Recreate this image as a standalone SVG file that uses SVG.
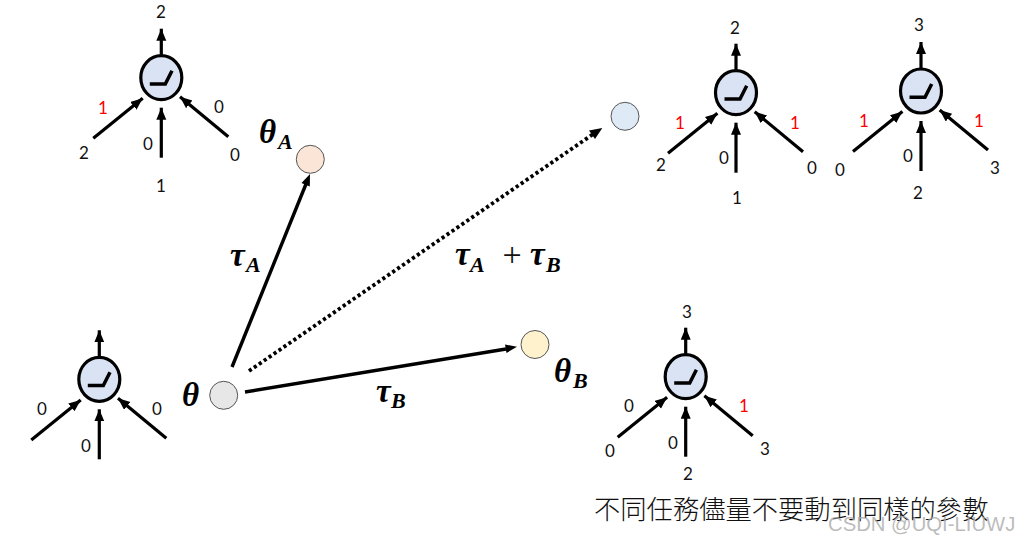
<svg xmlns="http://www.w3.org/2000/svg" width="1018" height="541" viewBox="0 0 1018 541">
<style>
text{font-family:"Lato","Liberation Sans",sans-serif;font-size:17px;fill:#111;text-anchor:middle}
.r{fill:#f00}
.m{font-family:"Liberation Serif","DejaVu Serif",serif;font-weight:bold;font-style:italic;font-size:33px;fill:#000;text-anchor:start}
.s{font-size:22px}
.plus{font-family:"Liberation Serif",serif;font-size:34px;fill:#111;text-anchor:middle}
.p{stroke:#555;stroke-width:1}
.a{stroke:#000;stroke-width:3.200;fill:none;marker-end:url(#h)}
.c{stroke:#000;stroke-width:3.400;fill:none}
.d{stroke:#000;stroke-width:3.800;fill:none;stroke-dasharray:3.200 2.800}
.cjk{font-family:"Noto Sans CJK TC",sans-serif;font-weight:300;font-size:26.300px;fill:#111;text-anchor:start}
.wm{font-family:"Liberation Sans",sans-serif;font-size:20.300px;fill:#aaa;fill-opacity:.8;text-anchor:start}
</style>
<defs>
<marker id="h" markerUnits="userSpaceOnUse" markerWidth="14" markerHeight="12" refX="12" refY="5" orient="auto"><path d="M0 0L12 5L0 10z" fill="#000"/></marker>
<g id="neuron">
<path class="a" d="M0-23V-49"/>
<path class="a" d="M-68 60.600L-18.600 20.600"/>
<path class="a" d="M0 80V30"/>
<path class="a" d="M67 59L18.700 19"/>
<ellipse rx="20.500" ry="22" fill="#dae3f3" stroke="#000" stroke-width="3.200"/>
<path d="M-11.500 6.300H4L10.700-7" fill="none" stroke="#000" stroke-width="3.500"/>
</g>
</defs>
<g id="connectors">
<path class="c" d="M232 367L306 184"/><path d="M310 174L309.800 186.500L301.500 183z"/>
<path class="d" d="M249 371L594 133.500"/><path d="M602.300 128L595 139L589 130.500z"/>
<path class="c" d="M245 392L506 349"/><path d="M517 346.800L506.500 353L505 344.500z"/>
</g>
<g id="neuron-top-left"><use href="#neuron" x="161.300" y="77.700"/>
<text x="161" y="18">2</text><text class="r" x="103" y="114">1</text><text x="84" y="159">2</text><text x="148" y="150">0</text><text x="161" y="192">1</text><text x="219" y="113">0</text><text x="235" y="161">0</text></g>
<g id="neuron-top-mid"><use href="#neuron" x="736" y="92.700"/>
<text x="735" y="34">2</text><text class="r" x="680" y="129">1</text><text x="661" y="171">2</text><text x="724" y="164">0</text><text x="737" y="204">1</text><text class="r" x="795" y="129">1</text><text x="812" y="174">0</text></g>
<g id="neuron-top-right"><use href="#neuron" x="921" y="91"/>
<text x="919" y="31">3</text><text class="r" x="864" y="127">1</text><text x="840" y="176">0</text><text x="908" y="162">0</text><text x="918" y="199">2</text><text class="r" x="979" y="127">1</text><text x="995" y="174">3</text></g>
<g id="neuron-bottom-right"><use href="#neuron" x="685.700" y="376.700"/>
<text x="687" y="318">3</text><text x="629" y="412">0</text><text x="610" y="457">0</text><text x="673" y="449">0</text><text x="688" y="480">2</text><text class="r" x="744" y="412">1</text><text x="765" y="455">3</text></g>
<g id="neuron-left"><use href="#neuron" x="99.300" y="379.300"/>
<text x="42" y="415">0</text><text x="86" y="452">0</text><text x="157" y="415">0</text></g>
<g id="theta"><circle class="p" cx="223.700" cy="395.300" r="14" fill="#e7e7e7"/><text class="m" x="182" y="406">θ</text></g>
<g id="theta-a"><circle class="p" cx="310.300" cy="159.300" r="14" fill="#fbe5d6"/><text class="m" x="259" y="143">θ</text><text class="m s" x="278" y="149">A</text></g>
<g id="theta-b"><circle class="p" cx="535" cy="344.500" r="14" fill="#fff2cc"/><text class="m" x="554" y="382">θ</text><text class="m s" x="573" y="388">B</text></g>
<g id="theta-ab"><circle class="p" cx="625" cy="116.300" r="14" fill="#deebf7"/></g>
<g id="labels">
<text class="m" x="230" y="266">τ</text><text class="m s" x="246" y="272">A</text>
<text class="m" x="455" y="265">τ</text><text class="m s" x="470" y="272">A</text><text class="plus" x="512" y="266">+</text><text class="m" x="530" y="265">τ</text><text class="m s" x="546" y="272">B</text>
<text class="m" x="376" y="402">τ</text><text class="m s" x="391" y="408">B</text>
<text class="cjk" x="594" y="519">不同任務儘量不要動到同樣的參數</text>
<text class="wm" x="828" y="531">CSDN @UQI-LIUWJ</text>
</g>
</svg>
